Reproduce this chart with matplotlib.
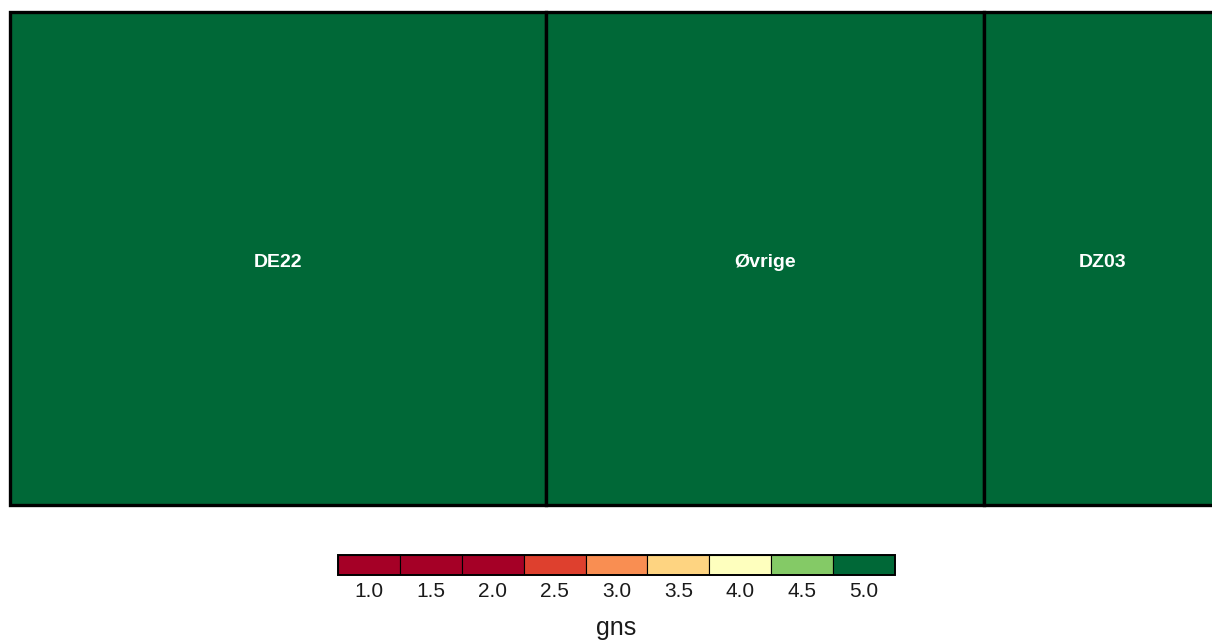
import matplotlib
matplotlib.use('Agg')
import matplotlib.pyplot as plt
from matplotlib.patches import Rectangle
import numpy as np

plt.rcParams['font.family'] = ['Liberation Sans', 'DejaVu Sans']

# treemap data
labels = ['DE22', 'Øvrige', 'DZ03']
sizes = [27, 22, 12]
gns = [5.0, 5.0, 5.0]

# legend data
legend_values = [1.0, 1.5, 2.0, 2.5, 3.0, 3.5, 4.0, 4.5, 5.0]
legend_labels = ['1.0', '1.5', '2.0', '2.5', '3.0', '3.5', '4.0', '4.5', '5.0']

cmap = plt.get_cmap('RdYlGn')


def farve(v):
    # 2 -> rod, 4 -> gul, 5 -> gron
    if v <= 2.0:
        t = 0.0
    elif v <= 4.0:
        t = (v - 2.0) / 4.0
    else:
        t = 0.5 + (v - 4.0) / 2.0
    return cmap(min(t, 1.0))


fig = plt.figure(figsize=(12.12, 6.43), dpi=100)

# selve treemap
ax = fig.add_axes([10 / 1212, (643 - 505) / 643, 1212 / 1212, 493 / 643])
total = sum(sizes)
x0 = 0.0
for lab, s, g in zip(labels, sizes, gns):
    w = s / total
    ax.add_patch(Rectangle((x0, 0), w, 1, facecolor=farve(g), edgecolor='black',
                           linewidth=2.4, clip_on=False))
    ax.text(x0 + w / 2, 0.492, lab, ha='center', va='center', color='white',
            fontsize=14, fontweight='bold')
    x0 += w
ax.set_xlim(0, 1)
ax.set_ylim(0, 1)
ax.axis('off')

# farveskala
lax = fig.add_axes([338 / 1212, (643 - 575) / 643, 557 / 1212, 20 / 643])
pos = np.arange(len(legend_values))
lax.bar(pos, 1, width=1, color=[farve(v) for v in legend_values],
        edgecolor='black', linewidth=0.8, align='center')
lax.add_patch(Rectangle((-0.5, 0), len(legend_values), 1, fill=False,
                        edgecolor='black', linewidth=1.4, clip_on=False))
lax.set_xlim(-0.5, len(legend_values) - 0.5)
lax.set_ylim(0, 1)
lax.set_xticks(pos)
lax.set_xticklabels(legend_labels, fontsize=15, color='#1a1a1a')
lax.tick_params(axis='x', length=0, pad=5)
lax.set_yticks([])
for sp in lax.spines.values():
    sp.set_visible(False)
fig.text(616 / 1212, 1 - 628 / 643, 'gns', ha='center', va='center', fontsize=18,
         color='#1a1a1a')

fig.savefig('out.png', dpi=100)
